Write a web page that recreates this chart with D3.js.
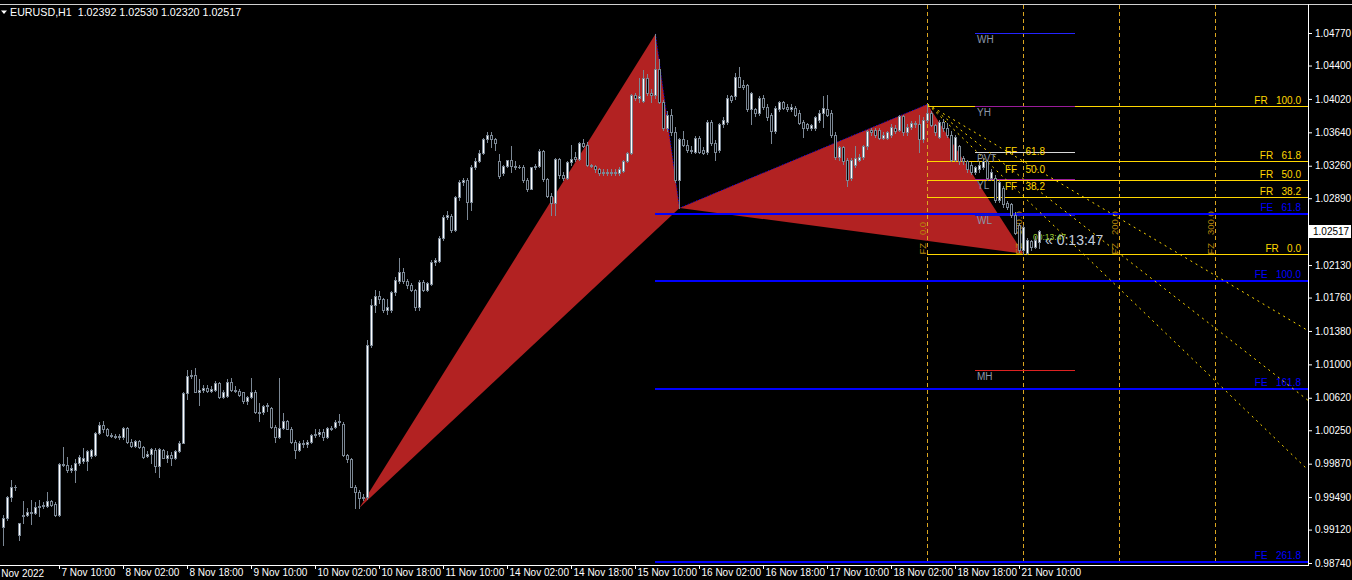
<!DOCTYPE html>
<html><head><meta charset="utf-8">
<script src="https://cdn.jsdelivr.net/npm/d3@7"></script>
<style>
html,body{margin:0;padding:0;background:#000;overflow:hidden;}
svg{display:block;}
text{font-family:"Liberation Sans",Arial,sans-serif;white-space:pre;}
</style></head><body>
<svg id="c" width="1352" height="580"></svg>
<script>
// ---------- DATA ----------
const headerText = "EURUSD,H1  1.02392 1.02530 1.02320 1.02517";
const lastPriceLabel = "1.02517";
const timerShort = "00:13:47";
const timerLong = "\u00AB 0:13:47";

const opens = [
.9915,.9925,.9949,.9960,.9906,.9927,.9929,.9931,.9931,.9938,
.9939,.9939,.9944,.9941,.9929,.9987,.9985,.9980,.9980,.9988,
.9990,.9990,.9996,.9997,1.0022,1.0031,1.0026,1.0020,1.0019,1.0017,
1.0017,1.0028,1.0012,1.0007,1.0013,1.0006,.9996,.9998,1.0002,.9984,
1.0003,.9994,.9997,.9993,1.0001,1.0011,1.0067,1.0087,1.0088,1.0069,
1.0071,1.0073,1.0070,1.0071,1.0079,1.0063,1.0064,1.0080,1.0071,1.0070,
1.0068,1.0058,1.0063,1.0069,1.0046,1.0046,1.0053,1.0050,1.0029,1.0017,
1.0028,1.0036,1.0027,1.0012,1.0003,1.0011,1.0009,1.0012,1.0020,1.0021,
1.0023,1.0017,1.0028,1.0029,1.0034,1.0032,.9997,.9992,.9961,.9955,
.9948,.9949,1.0122,1.0168,1.0178,1.0174,1.0162,1.0162,1.0182,1.0195,
1.0205,1.0195,1.0190,1.0185,1.0165,1.0194,1.0185,1.0191,1.0217,1.0218,
1.0244,1.0268,1.0269,1.0253,1.0290,1.0307,1.0310,1.0285,1.0325,1.0331,
1.0341,1.0356,1.0361,1.0356,1.0331,1.0318,1.0326,1.0332,1.0326,1.0325,
1.0325,1.0310,1.0300,1.0324,1.0326,1.0343,1.0311,1.0292,1.0284,1.0334,
1.0316,1.0312,1.0330,1.0336,1.0334,1.0352,1.0350,1.0327,1.0326,1.0322,
1.0318,1.0319,1.0318,1.0319,1.0318,1.0320,1.0331,1.0340,1.0406,1.0403,
1.0400,1.0426,1.0409,1.0406,1.0436,1.0399,1.0369,1.0384,1.0364,1.0310,
1.0356,1.0350,1.0344,1.0342,1.0358,1.0344,1.0342,1.0376,1.0352,1.0344,
1.0373,1.0376,1.0405,1.0405,1.0427,1.0418,1.0418,1.0390,1.0390,1.0386,
1.0403,1.0393,1.0384,1.0365,1.0390,1.0398,1.0393,1.0390,1.0392,1.0386,
1.0376,1.0373,1.0369,1.0369,1.0378,1.0386,1.0391,1.0386,1.0361,1.0336,
1.0347,1.0333,1.0312,1.0327,1.0333,1.0336,1.0348,1.0367,1.0367,1.0367,
1.0358,1.0358,1.0361,1.0369,1.0367,1.0382,1.0364,1.0370,1.0375,1.0373,
1.0356,1.0378,1.0386,1.0372,1.0359,1.0376,1.0369,1.0361,1.0333,1.0348,
1.0335,1.0331,1.0327,1.0319,1.0322,1.0324,1.0331,1.0312,1.0312,1.0287,
1.0301,1.0284,1.0282,1.0270,1.0259,1.0230,1.0227,1.0240,1.0234,1.02392];
const highs = [
.9929,.9950,.9968,.9963,.9920,.9944,.9937,.9946,.9943,.9946,
.9943,.9955,.9946,.9943,.9988,1.0006,.9995,.9985,.9992,.9997,
1.0005,1.0003,1.0004,1.0023,1.0034,1.0035,1.0028,1.0022,1.0021,1.0021,
1.0029,1.0029,1.0015,1.0014,1.0014,1.0007,1.0001,1.0005,1.0005,1.0005,
1.0004,1.0001,1.0000,1.0003,1.0013,1.0068,1.0094,1.0094,1.0096,1.0083,
1.0076,1.0076,1.0075,1.0081,1.0080,1.0071,1.0083,1.0085,1.0075,1.0072,
1.0069,1.0064,1.0085,1.0071,1.0056,1.0054,1.0056,1.0051,1.0031,1.0085,
1.0045,1.0037,1.0029,1.0014,1.0013,1.0014,1.0014,1.0021,1.0026,1.0027,
1.0027,1.0029,1.0030,1.0037,1.0044,1.0034,.9998,.9993,.9963,.9957,
.9953,1.0128,1.0174,1.0185,1.0183,1.0176,1.0174,1.0183,1.0199,1.0221,
1.0210,1.0197,1.0192,1.0186,1.0196,1.0196,1.0194,1.0219,1.0221,1.0246,
1.0270,1.0274,1.0271,1.0291,1.0310,1.0312,1.0312,1.0327,1.0335,1.0344,
1.0358,1.0364,1.0364,1.0357,1.0339,1.0327,1.0333,1.0349,1.0331,1.0327,
1.0327,1.0312,1.0325,1.0328,1.0345,1.0344,1.0312,1.0295,1.0335,1.0335,
1.0319,1.0331,1.0350,1.0342,1.0353,1.0356,1.0353,1.0328,1.0327,1.0323,
1.0322,1.0322,1.0322,1.0322,1.0324,1.0333,1.0342,1.0408,1.0409,1.0426,
1.0435,1.0430,1.0413,1.0476,1.0447,1.0401,1.0388,1.0390,1.0370,1.0358,
1.0366,1.0355,1.0349,1.0360,1.0360,1.0347,1.0378,1.0378,1.0355,1.0375,
1.0381,1.0406,1.0407,1.0432,1.0438,1.0424,1.0419,1.0410,1.0392,1.0405,
1.0406,1.0396,1.0386,1.0394,1.0400,1.0400,1.0396,1.0396,1.0394,1.0389,
1.0378,1.0375,1.0374,1.0383,1.0389,1.0405,1.0407,1.0389,1.0364,1.0349,
1.0349,1.0335,1.0335,1.0348,1.0339,1.0350,1.0367,1.0369,1.0369,1.0369,
1.0364,1.0366,1.0373,1.0372,1.0384,1.0384,1.0373,1.0377,1.0377,1.0384,
1.0381,1.0396,1.0388,1.0374,1.0378,1.0379,1.0375,1.0366,1.0361,1.0350,
1.0337,1.0333,1.0330,1.0326,1.0330,1.0335,1.0333,1.0322,1.0315,1.0310,
1.0303,1.0286,1.0284,1.0273,1.0261,1.0258,1.0244,1.0242,1.0246,1.02530];
const lows = [
.9894,.9923,.9944,.9957,.9900,.9920,.9927,.9918,.9930,.9927,
.9937,.9938,.9939,.9928,.9928,.9984,.9977,.9978,.9966,.9986,
.9988,.9980,.9994,.9996,1.0021,1.0023,1.0019,1.0017,1.0016,1.0015,
1.0015,1.0011,1.0006,1.0006,1.0005,.9994,.9995,.9988,.9977,.9972,
.9993,.9989,.9985,.9992,1.0000,1.0010,1.0061,1.0085,1.0068,1.0054,
1.0069,1.0068,1.0069,1.0070,1.0062,1.0062,1.0063,1.0070,1.0068,1.0064,
1.0056,1.0055,1.0062,1.0045,1.0035,1.0044,1.0047,1.0028,1.0012,1.0016,
1.0026,1.0026,1.0011,.9994,1.0001,1.0006,1.0006,1.0011,1.0017,1.0019,
1.0014,1.0016,1.0025,1.0028,1.0031,.9996,.9989,.9960,.9937,.9937,
.9946,.9947,1.0120,1.0160,1.0170,1.0160,1.0157,1.0160,1.0179,1.0193,
1.0193,1.0187,1.0183,1.0162,1.0162,1.0183,1.0183,1.0190,1.0213,1.0216,
1.0242,1.0265,1.0251,1.0252,1.0287,1.0304,1.0265,1.0276,1.0322,1.0330,
1.0339,1.0353,1.0347,1.0344,1.0312,1.0316,1.0324,1.0319,1.0322,1.0323,
1.0308,1.0297,1.0299,1.0322,1.0324,1.0309,1.0290,1.0270,1.0270,1.0312,
1.0310,1.0311,1.0327,1.0331,1.0333,1.0347,1.0326,1.0324,1.0319,1.0316,
1.0315,1.0315,1.0315,1.0316,1.0316,1.0319,1.0330,1.0339,1.0401,1.0399,
1.0398,1.0407,1.0398,1.0403,1.0397,1.0367,1.0365,1.0361,1.0307,1.0278,
1.0348,1.0342,1.0341,1.0341,1.0341,1.0339,1.0339,1.0350,1.0333,1.0342,
1.0370,1.0374,1.0398,1.0402,1.0415,1.0413,1.0388,1.0373,1.0383,1.0384,
1.0391,1.0378,1.0352,1.0363,1.0388,1.0390,1.0388,1.0388,1.0382,1.0373,
1.0359,1.0367,1.0367,1.0367,1.0376,1.0370,1.0382,1.0359,1.0334,1.0333,
1.0328,1.0303,1.0310,1.0325,1.0331,1.0334,1.0345,1.0361,1.0359,1.0356,
1.0356,1.0356,1.0359,1.0363,1.0365,1.0361,1.0361,1.0368,1.0370,1.0342,
1.0353,1.0376,1.0371,1.0361,1.0357,1.0365,1.0359,1.0331,1.0331,1.0328,
1.0328,1.0319,1.0317,1.0317,1.0319,1.0322,1.0310,1.0310,1.0285,1.0285,
1.0279,1.0277,1.0268,1.0248,1.0228,1.0226,1.0226,1.0230,1.0232,1.02320];
const closes = [
.9925,.9949,.9960,.9961,.9919,.9929,.9932,.9932,.9938,.9939,
.9940,.9944,.9940,.9929,.9987,.9985,.9980,.9982,.9988,.9995,
.9994,1.0001,1.0002,1.0022,1.0031,1.0026,1.0020,1.0019,1.0017,1.0019,
1.0028,1.0012,1.0007,1.0013,1.0006,.9995,.9998,1.0004,.9984,1.0004,
.9994,.9997,.9993,1.0001,1.0011,1.0067,1.0087,1.0088,1.0069,1.0071,
1.0073,1.0070,1.0072,1.0079,1.0063,1.0069,1.0080,1.0071,1.0070,1.0065,
1.0058,1.0063,1.0069,1.0046,1.0045,1.0053,1.0054,1.0029,1.0017,1.0028,
1.0036,1.0027,1.0012,1.0003,1.0011,1.0009,1.0012,1.0020,1.0021,1.0023,
1.0017,1.0028,1.0026,1.0034,1.0035,.9997,.9992,.9961,.9955,.9948,
.9949,1.0122,1.0168,1.0178,1.0174,1.0162,1.0165,1.0182,1.0196,1.0205,
1.0195,1.0190,1.0185,1.0165,1.0194,1.0185,1.0192,1.0217,1.0219,1.0244,
1.0268,1.0270,1.0253,1.0290,1.0307,1.0310,1.0285,1.0325,1.0331,1.0341,
1.0356,1.0361,1.0356,1.0352,1.0314,1.0326,1.0332,1.0326,1.0325,1.0325,
1.0310,1.0300,1.0324,1.0326,1.0343,1.0311,1.0292,1.0284,1.0334,1.0316,
1.0312,1.0330,1.0334,1.0334,1.0352,1.0349,1.0327,1.0326,1.0322,1.0318,
1.0319,1.0318,1.0319,1.0318,1.0322,1.0331,1.0340,1.0406,1.0403,1.0405,
1.0426,1.0409,1.0406,1.0436,1.0399,1.0369,1.0384,1.0364,1.0310,1.0356,
1.0350,1.0344,1.0343,1.0358,1.0342,1.0341,1.0376,1.0352,1.0342,1.0373,
1.0378,1.0403,1.0401,1.0427,1.0416,1.0415,1.0390,1.0409,1.0386,1.0403,
1.0393,1.0381,1.0365,1.0392,1.0398,1.0392,1.0390,1.0393,1.0384,1.0375,
1.0369,1.0369,1.0372,1.0381,1.0386,1.0392,1.0384,1.0361,1.0336,1.0347,
1.0331,1.0310,1.0333,1.0335,1.0336,1.0348,1.0365,1.0364,1.0361,1.0358,
1.0361,1.0364,1.0370,1.0365,1.0382,1.0364,1.0370,1.0375,1.0373,1.0356,
1.0378,1.0386,1.0372,1.0364,1.0376,1.0369,1.0361,1.0333,1.0359,1.0331,
1.0331,1.0322,1.0319,1.0324,1.0327,1.0331,1.0312,1.0319,1.0287,1.0308,
1.0282,1.0279,1.0270,1.0250,1.0230,1.0256,1.0242,1.0233,1.0242,1.02517];

const priceTicks = [1.04770,1.04400,1.04020,1.03640,1.03260,1.02890,1.02130,1.01760,
  1.01380,1.01000,1.00620,1.00250,0.99870,0.99490,0.99120,0.98740];
const firstDateLabel = "4 Nov 2022";
const timeTickBars = [14,30,46,62,78,94,110,126,142,158,174,190,206,222,238,254];
const timeTickLabels = ["7 Nov 10:00","8 Nov 02:00","8 Nov 18:00","9 Nov 10:00","10 Nov 02:00",
  "10 Nov 18:00","11 Nov 10:00","14 Nov 02:00","14 Nov 18:00","15 Nov 10:00","16 Nov 02:00",
  "16 Nov 18:00","17 Nov 10:00","18 Nov 02:00","18 Nov 18:00","21 Nov 10:00"];

// harmonic pattern pivots (bar indices): X low, A high, B low, C high, D low
const patternBars = {X:89, A:163, B:169, C:231, D:255};

const frLabels = ["100.0","61.8","50.0","38.2","0.0"];
const frValues = [1.0394,1.0331,1.0310,1.0290,1.0226];
const feLabels = ["61.8","100.0","161.8","261.8"];
const feValues = [1.0271,1.0195,1.0072,0.9875];
const fanLabels = ["61.8","50.0","38.2"];
const fanValues = [1.0331,1.0311,1.0291];   // price of each fan ray at the D bar
const fzLabels = ["0.0","100.0","200.0","300.0"];
const fzBars = [231,255,279,303];
const pivotNames = ["WH","YH","PVT","YL","WL","MH"];
const pivotValues = [1.0477,1.0394,1.0342,1.0311,1.0271,1.0094];
const pivotStartBar = 243, pivotEndBar = 268;

// ---------- STYLE ----------
const pivotColors = {WH:"#2424ff",YH:"#9a1c9a",PVT:"#d8d8d8",YL:"#9a1c9a",WL:"#1010d0",MH:"#dd2222"};
const C_GOLD = "#ffd700", C_BLUE = "#0000ff", C_RED = "#b22222", C_CANDLE = "#7b8794";
const FONT = "'Liberation Sans',Arial,sans-serif";

// ---------- SCALES ----------
const W = 1352, H = 580, plotRight = 1308, plotTop = 5, plotBottom = 565;
const x = d3.scaleLinear().domain([0, 259]).range([3, 1039]);
const y = d3.scaleLinear().domain([0.98740, 1.04770]).range([563, 33]);

const svg = d3.select("#c");
svg.append("rect").attr("width", W).attr("height", H).attr("fill", "#000");
svg.append("defs").append("clipPath").attr("id", "plot")
  .append("rect").attr("x", 0).attr("y", plotTop).attr("width", plotRight).attr("height", plotBottom - plotTop);
const g = svg.append("g").attr("clip-path", "url(#plot)");

// ---------- PATTERN ----------
const P = {
  X: [x(patternBars.X) + .5, y(lows[patternBars.X])],
  A: [x(patternBars.A) + .5, y(highs[patternBars.A])],
  B: [x(patternBars.B) + .5, y(lows[patternBars.B])],
  C: [x(patternBars.C) + .5, y(highs[patternBars.C])],
  D: [x(patternBars.D) + .5, y(lows[patternBars.D])]
};
const line = d3.line();
g.append("path").attr("d", line([P.X, P.A, P.B]) + "Z").attr("fill", C_RED);
g.append("path").attr("d", line([P.B, P.C, P.D]) + "Z").attr("fill", C_RED);
[[P.A, P.B], [P.B, P.C]].forEach(s => g.append("path").attr("d", line(s))
  .attr("stroke", C_BLUE).attr("stroke-width", 1).attr("stroke-dasharray", "1,2").attr("fill", "none"));

// ---------- FIB TIME ZONES ----------
fzBars.forEach((b, i) => {
  const xx = Math.round(x(b)) + .5;
  g.append("line").attr("x1", xx).attr("x2", xx).attr("y1", plotTop).attr("y2", plotBottom)
    .attr("stroke", "#daa520").attr("stroke-dasharray", "4,3");
  g.append("text").attr("transform", `translate(${xx - 2},${y(frValues[4]) + 1}) rotate(-90)`)
    .attr("font-size", 9.5).attr("fill", "#b8860b").text("FZ   " + fzLabels[i]);
});

// ---------- FE LEVELS ----------
feValues.forEach((v, i) => {
  const yy = Math.round(y(v));
  g.append("rect").attr("x", x(patternBars.A)).attr("y", yy - 1).attr("width", plotRight - x(patternBars.A)).attr("height", 2)
    .attr("fill", C_BLUE);
  g.append("text").attr("x", 1301).attr("y", yy - 3).attr("text-anchor", "end").attr("font-size", 10)
    .attr("fill", C_BLUE).text("FE   " + feLabels[i]);
});

// ---------- FR LEVELS ----------
frValues.forEach((v, i) => {
  const yy = Math.round(y(v)) + .5;
  g.append("line").attr("x1", x(patternBars.C)).attr("x2", plotRight).attr("y1", yy).attr("y2", yy)
    .attr("stroke", C_GOLD);
  g.append("text").attr("x", 1301).attr("y", yy - 2.5).attr("text-anchor", "end").attr("font-size", 10)
    .attr("fill", C_GOLD).text("FR   " + frLabels[i]);
});

// ---------- PIVOT LINES ----------
pivotNames.forEach((n, i) => {
  const yy = Math.round(y(pivotValues[i]));
  g.append("rect").attr("x", x(pivotStartBar)).attr("y", yy).attr("width", x(pivotEndBar) - x(pivotStartBar))
    .attr("height", n === "WL" ? 2 : 1).attr("fill", pivotColors[n]).attr("shape-rendering", "crispEdges");
  g.append("text").attr("x", x(pivotStartBar) + 2).attr("y", yy + 10).attr("font-size", 10)
    .attr("fill", "#8c96a8").text(n);
});

// ---------- FIB FAN ----------
fanValues.forEach((v, i) => {
  const x0 = P.C[0], y0 = P.C[1], x1 = x(patternBars.D) + .5, y1 = y(v);
  const slope = (y1 - y0) / (x1 - x0);
  const xe = plotRight + 40;
  g.append("line").attr("x1", x0).attr("y1", y0).attr("x2", xe).attr("y2", y0 + slope * (xe - x0))
    .attr("stroke", C_GOLD).attr("stroke-dasharray", "2,4");
  g.append("text").attr("x", x(patternBars.D) - 18).attr("y", y1 - 6).attr("font-size", 10)
    .attr("fill", C_GOLD).text("FF   " + fanLabels[i]);
});

// ---------- TIMER ----------
g.append("text").attr("x", x(259) + 6).attr("y", y(closes[259]) + 14).attr("font-size", 14)
  .attr("fill", "#c3cddc").text(timerLong);
g.append("text").attr("x", x(259) - 6).attr("y", y(closes[259]) + 9).attr("font-size", 8.5)
  .attr("fill", "#9acd32").text(timerShort);

// ---------- CANDLES ----------
const cg = g.append("g").attr("shape-rendering", "crispEdges");
opens.forEach((o, k) => {
  const c = closes[k], cx = Math.round(x(k));
  const yh = Math.round(y(highs[k])), yl = Math.round(y(lows[k]));
  const yt = Math.round(y(Math.max(o, c))), yb = Math.round(y(Math.min(o, c)));
  cg.append("rect").attr("x", cx).attr("y", yh).attr("width", 1).attr("height", Math.max(1, yl - yh + 1)).attr("fill", C_CANDLE);
  cg.append("rect").attr("x", cx - 1).attr("y", yt).attr("width", 3).attr("height", yb - yt + 1).attr("fill", C_CANDLE);
  if (yb - yt >= 2)
    cg.append("rect").attr("x", cx).attr("y", yt + 1).attr("width", 1).attr("height", yb - yt - 1)
      .attr("fill", c >= o ? "#ffffff" : "#000000");
});

// ---------- FRAME & AXES ----------
const fr = svg.append("g").attr("shape-rendering", "crispEdges");
fr.append("line").attr("x1", 0).attr("x2", W).attr("y1", 4.5).attr("y2", 4.5).attr("stroke", "#d0d0d0");
fr.append("line").attr("x1", plotRight + .5).attr("x2", plotRight + .5).attr("y1", 4).attr("y2", plotBottom + 1).attr("stroke", "#fff");
fr.append("line").attr("x1", 0).attr("x2", plotRight + 1).attr("y1", plotBottom + .5).attr("y2", plotBottom + .5).attr("stroke", "#fff");

const ya = svg.append("g").attr("transform", `translate(${plotRight},0)`)
  .call(d3.axisRight(y).tickValues(priceTicks).tickFormat(d3.format(".5f")).tickSize(4));
ya.select(".domain").remove();
ya.attr("font-family", FONT).attr("font-size", 10);
ya.selectAll("line").attr("stroke", "#fff");
ya.selectAll("text").attr("fill", "#fff").attr("x", 7);

// price label
const py = Math.round(y(closes[259]));
svg.append("rect").attr("x", plotRight + 1).attr("y", py - 6).attr("width", 42).attr("height", 13).attr("fill", "#fff");
svg.append("text").attr("x", plotRight + 5).attr("y", py + 4).attr("font-size", 10).attr("fill", "#000").text(lastPriceLabel);

const xa = svg.append("g").attr("transform", `translate(0,${plotBottom})`)
  .call(d3.axisBottom(x).tickValues(timeTickBars).tickFormat((d, i) => timeTickLabels[i]).tickSize(4));
xa.select(".domain").remove();
xa.attr("font-family", FONT).attr("font-size", 10);
xa.selectAll("line").attr("stroke", "#fff");
xa.selectAll("text").attr("fill", "#fff").attr("text-anchor", "start").attr("x", 2).attr("y", 4);
svg.append("text").attr("x", -7).attr("y", plotBottom + 12).attr("font-size", 10).attr("fill", "#fff").text(firstDateLabel);

// header
svg.append("path").attr("d", "M1,10.5L7,10.5L4,14Z").attr("fill", "#fff");
svg.append("text").attr("x", 10).attr("y", 16).attr("font-size", 10.7).attr("fill", "#fff").text(headerText);
</script>
</body></html>
